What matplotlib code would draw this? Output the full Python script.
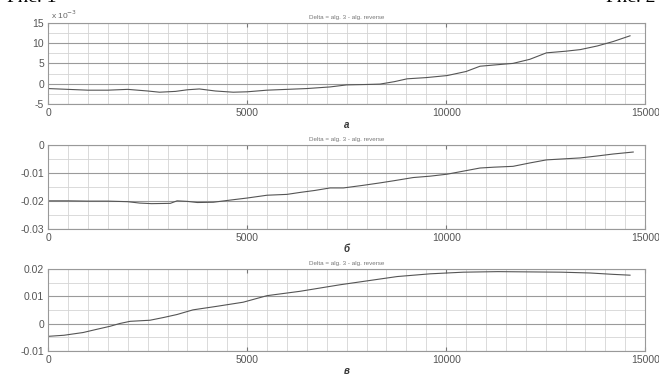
import matplotlib.pyplot as plt
from matplotlib.ticker import MultipleLocator

plt.rcParams["font.family"] = ["Liberation Sans", "DejaVu Sans"]

# panel a (values in units of 1e-3)
x_a = [0, 500, 1000, 1500, 2000, 2500, 2800, 3200, 3500, 3800, 4200, 4650, 5000,
       5500, 6000, 6500, 7085, 7500, 8000, 8340, 8700, 9020, 9500, 10025, 10500,
       10850, 11200, 11680, 12100, 12520, 13000, 13370, 13800, 14200, 14620]
y_a = [-1.2, -1.4, -1.6, -1.6, -1.4, -1.8, -2.1, -1.9, -1.5, -1.3, -1.8, -2.1, -2.0,
       -1.6, -1.4, -1.2, -0.8, -0.3, -0.2, -0.1, 0.5, 1.2, 1.5, 2.0, 3.0,
       4.3, 4.6, 5.0, 6.0, 7.6, 8.0, 8.4, 9.3, 10.4, 11.8]

# panel b
x_b = [0, 500, 1000, 1500, 2000, 2300, 2600, 3070, 3240, 3500, 3750, 4150, 4650,
       5000, 5500, 6000, 6330, 6700, 7085, 7420, 7900, 8340, 8700, 9170, 9600,
       10025, 10400, 10850, 11200, 11680, 12100, 12520, 13000, 13370, 13800,
       14200, 14700]
y_b = [-0.0200, -0.0200, -0.0201, -0.0201, -0.0203, -0.0208, -0.0210, -0.0209,
       -0.0200, -0.0202, -0.0206, -0.0205, -0.0196, -0.0190, -0.0180, -0.0177,
       -0.0170, -0.0163, -0.0154, -0.0154, -0.0145, -0.0136, -0.0128, -0.0117,
       -0.0112, -0.0105, -0.0095, -0.0083, -0.0080, -0.0077, -0.0065, -0.0054,
       -0.0050, -0.0047, -0.0040, -0.0033, -0.0026]

# panel c
x_c = [0, 400, 880, 1200, 1560, 1800, 2060, 2560, 2900, 3240, 3640, 4240, 4900,
       5500, 6330, 7085, 7340, 7910, 8770, 9600, 10430, 11300, 12110, 12900,
       13620, 14200, 14620]
y_c = [-0.0047, -0.0043, -0.0033, -0.0022, -0.0010, 0.0000, 0.0008, 0.0012,
       0.0022, 0.0033, 0.0050, 0.0063, 0.0078, 0.0102, 0.0118, 0.0136, 0.0142,
       0.0154, 0.0172, 0.0182, 0.0188, 0.0190, 0.0189, 0.0188, 0.0185, 0.0180,
       0.0177]

panels = [
    (x_a, y_a, [-5, 0, 5, 10, 15], ["-5", "0", "5", "10", "15"], 2.5, "а"),
    (x_b, y_b, [-0.03, -0.02, -0.01, 0], ["-0.03", "-0.02", "-0.01", "0"], 0.005, "б"),
    (x_c, y_c, [-0.01, 0, 0.01, 0.02], ["-0.01", "0", "0.01", "0.02"], 0.005, "в"),
]
# axes boxes in figure fraction: left, bottom, width, height
boxes = [[0.073, 0.722, 0.906, 0.217],
         [0.073, 0.388, 0.906, 0.225],
         [0.073, 0.062, 0.906, 0.219]]
title = "Delta = alg. 3 - alg. reverse"

fig = plt.figure(figsize=(6.59, 3.74), dpi=100)
for (x, y, yt, ytl, yminor, lab), box in zip(panels, boxes):
    ax = fig.add_axes(box)
    ax.plot(x, y, color="#555555", lw=0.8)
    ax.set_xlim(0, 15000)
    ax.set_ylim(yt[0], yt[-1])
    ax.set_xticks([0, 5000, 10000, 15000])
    ax.set_xticklabels(["0", "5000", "10000", "15000"])
    ax.set_yticks(yt)
    ax.set_yticklabels(ytl)
    ax.xaxis.set_minor_locator(MultipleLocator(500))
    ax.yaxis.set_minor_locator(MultipleLocator(yminor))
    ax.grid(which="major", axis="y", color="#9a9a9a", lw=0.8)
    ax.grid(which="both", axis="x", color="#d4d4d4", lw=0.6)
    ax.grid(which="minor", axis="y", color="#d4d4d4", lw=0.6)
    ax.tick_params(which="both", direction="in", length=0, labelsize=7.5,
                   labelcolor="#555555", pad=3)
    ax.tick_params(axis="x", which="major", length=3, top=True, color="#777777")
    for s in ax.spines.values():
        s.set_color("#999999")
        s.set_linewidth(0.8)
    ax.set_title(title, fontsize=4.5, color="#777777", pad=3)
    ax.set_xlabel(lab, fontsize=7, color="#333333", fontstyle="italic",
                  fontweight="bold", labelpad=1)
    if lab == "а":
        ax.text(0.005, 1.02, "x 10$^{-3}$", transform=ax.transAxes,
                fontsize=6, color="#666666", va="bottom")

fig.text(0.01, 1.008, "Рис. 1", fontsize=14, family="Liberation Serif",
         va="center", ha="left")
fig.text(0.995, 1.008, "Рис. 2", fontsize=14, family="Liberation Serif",
         va="center", ha="right")

plt.savefig("out.png", dpi=100)
plt.close()
